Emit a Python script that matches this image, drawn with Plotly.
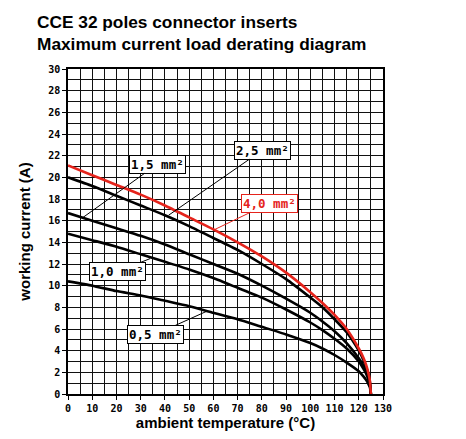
import plotly.graph_objects as go

temps = [0, 10, 20, 30, 40, 50, 60, 70, 80, 90, 100, 105, 110, 115, 120, 122, 123, 124, 124.6, 125]
i_40 = [21.1, 20.2, 19.3, 18.4, 17.4, 16.3, 15.2, 14.0, 12.7, 11.2, 9.4, 8.4, 7.3, 6.0, 4.2, 3.3, 2.7, 1.9, 1.2, 0]
i_25 = [20.0, 19.2, 18.3, 17.4, 16.5, 15.5, 14.4, 13.3, 12.0, 10.6, 8.9, 8.0, 6.9, 5.7, 4.0, 3.1, 2.5, 1.8, 1.1, 0]
i_15 = [16.7, 16.0, 15.3, 14.6, 13.8, 12.9, 12.0, 11.1, 10.0, 8.8, 7.5, 6.7, 5.8, 4.7, 3.3, 2.6, 2.1, 1.5, 0.95, 0]
i_10 = [14.8, 14.2, 13.6, 12.9, 12.2, 11.5, 10.7, 9.8, 8.9, 7.8, 6.6, 5.9, 5.1, 4.2, 3.0, 2.3, 1.9, 1.3, 0.85, 0]
i_05 = [10.4, 10.0, 9.5, 9.1, 8.6, 8.1, 7.5, 6.9, 6.2, 5.5, 4.7, 4.2, 3.6, 2.9, 2.1, 1.6, 1.3, 0.9, 0.6, 0]

series = [("0,5 mm²", i_05, "black"), ("1,0 mm²", i_10, "black"),
          ("1,5 mm²", i_15, "black"), ("2,5 mm²", i_25, "black"),
          ("4,0 mm²", i_40, "#e5231b")]

# label text, box centre (T, I), leader end point (T, I)
labels = [
    ("1,5 mm²", 36.8, 21.2, 6.2, 16.3, "black"),
    ("2,5 mm²", 80.2, 22.5, 41.5, 16.5, "black"),
    ("4,0 mm²", 83.0, 17.6, 60.7, 15.2, "#e5231b"),
    ("1,0 mm²", 20.5, 11.3, 33.9, 12.5, "black"),
    ("0,5 mm²", 36.0, 5.5, 57.4, 7.65, "black"),
]

title_lines = ["CCE 32 poles connector inserts", "Maximum current load derating diagram"]
x_ticks = list(range(0, 131, 10))
y_ticks = list(range(0, 31, 2))

fig = go.Figure()
for name, vals, col in series:
    fig.add_trace(go.Scatter(x=temps, y=vals, mode="lines", name=name,
                             line=dict(color=col, width=2.6, shape="spline", smoothing=0.5),
                             showlegend=False, hoverinfo="skip"))

mono = "DejaVu Sans Mono"
sans = "Liberation Sans"
for txt, tx, ty, px, py, col in labels:
    fig.add_annotation(x=px, y=py, ax=tx, ay=ty, axref="x", ayref="y",
                       xref="x", yref="y", text=txt, showarrow=True,
                       arrowhead=0, arrowwidth=1, arrowcolor=col,
                       font=dict(family=mono, size=12.5, color=col, weight="bold"),
                       bgcolor="white", bordercolor=col, borderwidth=1, borderpad=1)

# plot area in page pixels: x 68..383, y 69..394 (page has an 8px body margin)
for k, line in enumerate(title_lines):
    fig.add_annotation(text=line, xref="paper", yref="paper",
                       x=(35 - 68) / 315, y=(394 - (22 + 22 * k)) / 325,
                       xanchor="left", yanchor="middle", showarrow=False,
                       font=dict(family=sans, size=17.3, color="black", weight="bold"))

grid_col = "#111111"
fig.update_layout(
    width=466, height=439,
    margin=dict(l=60, r=91, t=61, b=53, autoexpand=False),
    paper_bgcolor="white", plot_bgcolor="white",
    font=dict(family=mono, size=10, color="black"),
)
fig.update_xaxes(range=[0, 130], tickvals=x_ticks, showgrid=True, gridcolor=grid_col, gridwidth=1.4,
                 minor=dict(dtick=5, showgrid=True, gridcolor=grid_col, gridwidth=1.4),
                 showline=True, linecolor="black", linewidth=1.5, mirror=True,
                 ticks="outside", ticklen=4, tickcolor="black", zeroline=False, automargin=False,
                 tickfont=dict(family=mono, size=10, weight="bold"),
                 title=dict(text="ambient temperature (°C)", standoff=3,
                            font=dict(family=sans, size=15, weight="bold")))
fig.update_yaxes(range=[0, 30], tickvals=y_ticks, showgrid=True, gridcolor=grid_col, gridwidth=1.4,
                 minor=dict(dtick=1, showgrid=True, gridcolor=grid_col, gridwidth=1.4),
                 showline=True, linecolor="black", linewidth=1.5, mirror=True,
                 ticks="outside", ticklen=4, tickcolor="black", zeroline=False, automargin=False,
                 tickfont=dict(family=mono, size=10, weight="bold"),
                 title=dict(text="working current (A)", standoff=14,
                            font=dict(family=sans, size=15, weight="bold")))

fig.write_html("out.html")
